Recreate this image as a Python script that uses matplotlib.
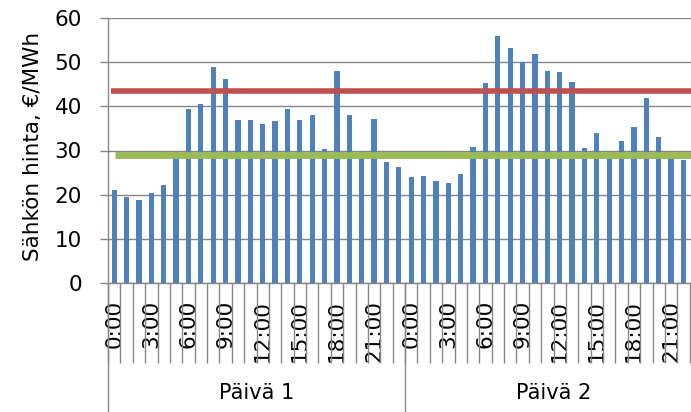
import matplotlib
matplotlib.use("Agg")
import matplotlib.pyplot as plt
import matplotlib.transforms as mtransforms
import numpy as np

# hourly electricity price, two days (€/MWh)
day1_prices = [21.0, 19.4, 18.9, 20.3, 22.1, 28.5, 39.5, 40.6, 48.9, 46.1, 36.8, 36.8,
               35.9, 36.6, 39.5, 36.9, 38.0, 30.4, 48.0, 38.0, 28.5, 37.1, 27.3, 26.3]
day2_prices = [24.1, 24.3, 23.0, 22.6, 24.6, 30.9, 45.2, 56.0, 53.2, 50.0, 51.9, 48.0,
               47.8, 45.5, 30.6, 34.0, 28.5, 32.1, 35.3, 41.8, 33.0, 28.5, 27.8, 27.0]
day_labels = ["Päivä 1", "Päivä 2"]
hour_labels = ["0:00", "3:00", "6:00", "9:00", "12:00", "15:00", "18:00", "21:00"]
red_level = 43.4
green_level = 28.9

plt.rcParams["font.family"] = ["DejaVu Sans"]
grey = "#868686"

prices = day1_prices + day2_prices
n_hours = len(day1_prices)
x = np.arange(len(prices))

fig = plt.figure(figsize=(6.91, 4.12), dpi=100)
ax = fig.add_axes([108 / 691, 129 / 412, 594 / 691, 265 / 412])

ax.set_axisbelow(True)
ax.yaxis.grid(True, color=grey, linewidth=1.0)
ax.bar(x, prices, width=0.42, color="#4F81BD", zorder=2)

ax.hlines(red_level, -0.27, len(prices), color="#C0504D", linewidth=4.0, zorder=3)
ax.hlines(green_level, 0.06, len(prices), color="#9BBB59", linewidth=5.0, zorder=3)

ax.set_xlim(-0.5, len(prices) - 0.5)
ax.set_ylim(0, 60)
ax.set_yticks(range(0, 61, 10))
ax.tick_params(axis="y", direction="out", length=5.8, color=grey, width=1.0,
               pad=13, labelsize=15.5)

# hour labels every third hour, tick lines between categories
tick_pos = [d * n_hours + h for d in range(len(day_labels)) for h in range(0, n_hours, 3)]
ax.set_xticks(tick_pos)
ax.set_xticklabels(hour_labels * len(day_labels), rotation=90)
ax.tick_params(axis="x", which="major", length=0, pad=12, labelsize=15.5)
ax.set_xticks(np.arange(len(prices) + 1) - 0.5, minor=True)
ax.tick_params(axis="x", which="minor", direction="out", length=57.6,
               color=grey, width=1.0)

for side in ["top", "right"]:
    ax.spines[side].set_visible(False)
for side in ["left", "bottom"]:
    ax.spines[side].set_color(grey)
    ax.spines[side].set_linewidth(1.0)

# day separators and day labels
trans = mtransforms.blended_transform_factory(ax.transData, ax.transAxes)
for d, label in enumerate(day_labels):
    start = d * n_hours - 0.5
    ax.plot([start, start], [0, -0.5], color=grey, linewidth=1.0,
            transform=trans, clip_on=False)
    ax.text(start + n_hours / 2, -0.415, label, transform=trans,
            ha="center", va="center", fontsize=15)

fig.text(33 / 691, 1 - 146.5 / 412, "Sähkön hinta, €/MWh", rotation=90,
         ha="center", va="center", fontsize=15.5)

fig.savefig("out.png", dpi=100)
plt.close(fig)
